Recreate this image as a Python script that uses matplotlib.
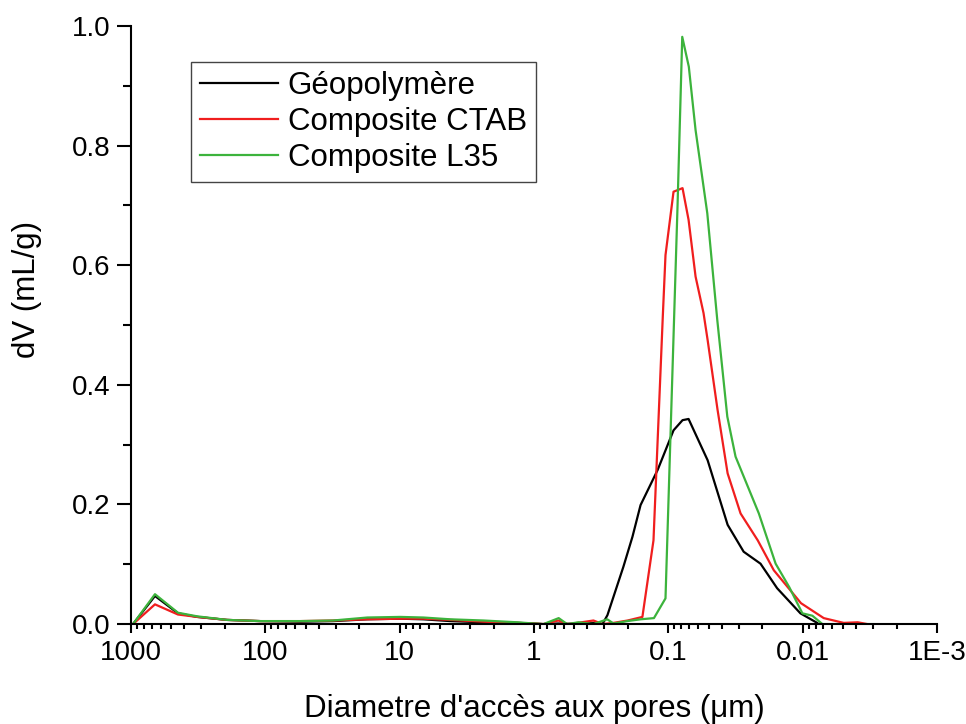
#!/usr/bin/env python3
import matplotlib
matplotlib.use('Agg')
import matplotlib.pyplot as plt
from matplotlib.ticker import FixedLocator, FuncFormatter, LogLocator, MultipleLocator, NullFormatter

plt.rcParams['font.family'] = ['Liberation Sans', 'DejaVu Sans']

# pore access diameter (um) and dV (mL/g)
geo_d = [966, 663, 447, 322, 193, 109, 55, 31.3, 17.4, 9.9, 6.67, 4.2, 2.38, 1.33, 1.01,
         0.851, 0.658, 0.475, 0.361, 0.309, 0.284, 0.216, 0.185, 0.161, 0.120, 0.0915,
         0.0784, 0.0707, 0.0510, 0.0362, 0.0275, 0.0206, 0.0155, 0.0104, 0.0078]
geo_v = [0, 0.047, 0.018, 0.012, 0.007, 0.005, 0.004, 0.005, 0.008, 0.009, 0.008, 0.005,
         0.003, 0.002, 0.001, 0.0, 0.001, 0.0, 0.002, 0.0, 0.015, 0.096, 0.146, 0.199, 0.258,
         0.324, 0.341, 0.343, 0.274, 0.166, 0.121, 0.101, 0.060, 0.018, 0.002]

ctab_d = [966, 663, 447, 322, 193, 109, 55, 31.3, 17.4, 9.9, 6.67, 4.2, 2.38, 1.33, 1.01,
          0.851, 0.658, 0.564, 0.475, 0.361, 0.309, 0.256, 0.201, 0.156, 0.129, 0.110, 0.105,
          0.0915, 0.0784, 0.0707, 0.0627, 0.0547, 0.0510, 0.0430, 0.0362, 0.0290, 0.0216,
          0.0164, 0.0103, 0.00697, 0.00495, 0.00389, 0.00330]
ctab_v = [0, 0.033, 0.016, 0.012, 0.007, 0.005, 0.005, 0.006, 0.008, 0.009, 0.009, 0.007,
          0.004, 0.002, 0.001, 0.0, 0.006, 0.0, 0.002, 0.006, 0.0, 0.002, 0.006, 0.012, 0.140,
          0.514, 0.617, 0.723, 0.729, 0.676, 0.581, 0.520, 0.475, 0.358, 0.252, 0.185, 0.140,
          0.090, 0.035, 0.010, 0.002, 0.003, 0.0]

l35_d = [966, 663, 447, 322, 193, 109, 55, 31.3, 17.4, 9.9, 6.67, 4.2, 2.38, 1.33, 1.01,
         0.851, 0.655, 0.567, 0.467, 0.361, 0.285, 0.256, 0.202, 0.161, 0.128, 0.105, 0.0854,
         0.0788, 0.0704, 0.0627, 0.0513, 0.0432, 0.0364, 0.0316, 0.0212, 0.0159, 0.0126,
         0.01005, 0.00847, 0.00713, 0.00296]
l35_v = [0, 0.050, 0.019, 0.013, 0.007, 0.005, 0.005, 0.006, 0.011, 0.012, 0.011, 0.008,
         0.006, 0.003, 0.001, 0.0, 0.010, 0.0, 0.003, 0.0, 0.008, 0.001, 0.005, 0.008, 0.010,
         0.043, 0.700, 0.982, 0.932, 0.826, 0.687, 0.508, 0.347, 0.280, 0.185, 0.101, 0.062,
         0.018, 0.014, 0.0, 0.0]

labels = ['Géopolymère', 'Composite CTAB', 'Composite L35']
colors = ['black', '#f01e1e', '#3cb33c']
x_ticks = [1000, 100, 10, 1, 0.1, 0.01, 0.001]
x_ticklabels = ['1000', '100', '10', '1', '0.1', '0.01', '1E-3']

fig = plt.figure(figsize=(9.66, 7.24), dpi=100)
ax = fig.add_axes([0.1356, 0.138, 0.8344, 0.826])

for d, v, lab, c in zip([geo_d, ctab_d, l35_d], [geo_v, ctab_v, l35_v], labels, colors):
    ax.plot(d, v, color=c, lw=1.6, label=lab)

ax.set_xscale('log')
ax.set_xlim(1000, 0.001)
ax.set_ylim(0, 1.0)

ax.xaxis.set_major_locator(FixedLocator(x_ticks))
ax.xaxis.set_major_formatter(FuncFormatter(lambda val, pos: x_ticklabels[pos] if pos is not None and pos < len(x_ticklabels) else ''))
ax.xaxis.set_minor_locator(LogLocator(base=10, subs=range(2, 10), numticks=20))
ax.xaxis.set_minor_formatter(NullFormatter())
ax.yaxis.set_major_locator(MultipleLocator(0.2))
ax.yaxis.set_minor_locator(MultipleLocator(0.1))
ax.yaxis.set_major_formatter(FuncFormatter(lambda val, pos: '{:.1f}'.format(val)))

for side in ['top', 'right']:
    ax.spines[side].set_visible(False)
for side in ['left', 'bottom']:
    ax.spines[side].set_linewidth(1.5)

ax.tick_params(which='major', direction='out', width=1.5, labelsize=20, pad=5)
ax.tick_params(which='minor', direction='out', width=1.5)
ax.tick_params(axis='x', which='major', length=6.5)
ax.tick_params(axis='x', which='minor', length=3.5)
ax.tick_params(axis='y', which='major', length=10)
ax.tick_params(axis='y', which='minor', length=6)

ax.set_xlabel("Diametre d'accès aux pores (μm)", fontsize=22.5, labelpad=20)
ax.set_ylabel('dV (mL/g)', fontsize=22.5, labelpad=21, y=0.56)

leg = ax.legend(loc='upper left', bbox_to_anchor=(0.0744, 0.94), borderaxespad=0,
                fontsize=22.5, handlelength=2.5, handletextpad=0.3, labelspacing=0.18,
                fancybox=False, framealpha=1, borderpad=0.3)
leg.get_frame().set_edgecolor('#444444')
leg.get_frame().set_linewidth(1.0)

fig.savefig('out.png', dpi=100)
